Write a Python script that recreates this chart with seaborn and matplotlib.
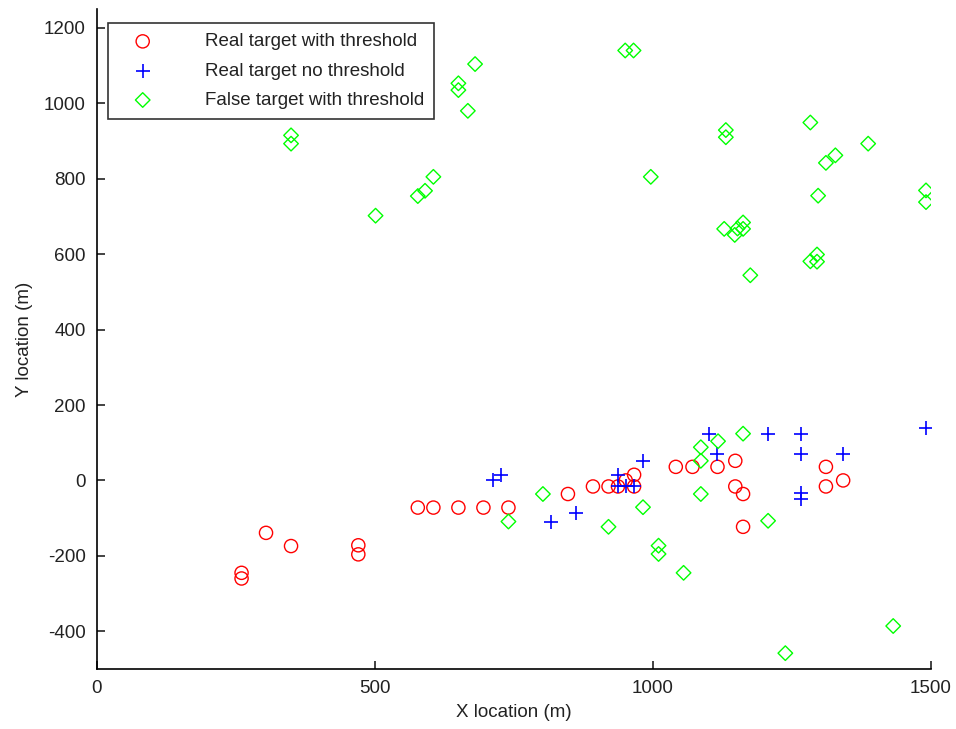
import matplotlib
matplotlib.use("Agg")
import matplotlib.pyplot as plt
import seaborn as sns
import pandas as pd

# Real target with threshold (red circles)
real_thr_x = [260, 260, 304, 349, 470, 470, 577, 605, 650, 695, 740, 847, 892, 920, 937, 951,
              966, 966, 1041, 1071, 1116, 1148, 1148, 1162, 1162, 1311, 1311, 1342]
real_thr_y = [-245, -260, -139, -174, -172, -196, -72, -72, -72, -72, -72, -36, -16, -16, -16, 0,
              15, -16, 36, 36, 36, 52, -16, -36, -123, 36, -16, 0]

# Real target no threshold (blue plus)
real_nothr_x = [713, 727, 817, 862, 937, 937, 951, 965, 982, 1100, 1116, 1207, 1266, 1266,
                1266, 1266, 1342, 1491]
real_nothr_y = [0, 15, -109, -87, 15, -16, -16, -16, 52, 124, 70, 124, 124, 70,
                -34, -50, 70, 138]

# False target with threshold (green diamonds)
false_thr_x = [740, 802, 920, 982, 1010, 1010, 1055, 1086, 1086, 1086, 1117, 1162, 1207, 1238, 1432,
               349, 349, 501, 577, 590, 605, 650, 650, 667, 680,
               950, 965, 996, 1131, 1131, 1283, 1387, 1311, 1328, 1297, 1491, 1491,
               1128, 1147, 1152, 1162, 1162, 1175, 1283, 1295, 1295]
false_thr_y = [-109, -36, -123, -71, -173, -195, -245, 88, 52, -36, 104, 124, -107, -458, -386,
               915, 893, 702, 754, 768, 805, 1053, 1035, 980, 1104,
               1140, 1140, 805, 929, 910, 949, 893, 842, 862, 755, 769, 738,
               667, 651, 668, 684, 667, 544, 581, 599, 580]

labels = ["Real target with threshold", "Real target no threshold", "False target with threshold"]

df_rt = pd.DataFrame({"x": real_thr_x, "y": real_thr_y})
df_rn = pd.DataFrame({"x": real_nothr_x, "y": real_nothr_y})
df_ft = pd.DataFrame({"x": false_thr_x, "y": false_thr_y})

sns.set_style("white")
plt.rcParams["font.family"] = ["Liberation Sans", "DejaVu Sans"]
plt.rcParams["axes.unicode_minus"] = False
plt.rcParams["text.color"] = "#222222"
plt.rcParams["axes.labelcolor"] = "#222222"

fig = plt.figure(figsize=(9.56, 7.29), dpi=100)
ax = fig.add_axes([97/956, 60/729, 834/956, 660/729])

sns.scatterplot(data=df_rt, x="x", y="y", ax=ax, marker="o", s=90,
                facecolors="none", edgecolor=(1, 0, 0), linewidth=1.0, label=labels[0])
sns.scatterplot(data=df_rn, x="x", y="y", ax=ax, marker="+", s=110,
                color=(0, 0, 1), linewidth=1.2, label=labels[1])
sns.scatterplot(data=df_ft, x="x", y="y", ax=ax, marker="D", s=55,
                facecolors="none", edgecolor=(0, 1, 0), linewidth=1.0, label=labels[2])

ax.set_xlim(0, 1500)
ax.set_ylim(-500, 1250)
ax.set_xticks([0, 500, 1000, 1500])
ax.set_yticks([-400, -200, 0, 200, 400, 600, 800, 1000, 1200])
ax.tick_params(direction="in", length=6, width=1.2, labelsize=13.5, colors="#222222", pad=8,
               left=True, bottom=True)
for s in ["top", "right"]:
    ax.spines[s].set_visible(False)
for s in ["left", "bottom"]:
    ax.spines[s].set_color("black")
    ax.spines[s].set_linewidth(1.2)

ax.set_xlabel("X location (m)", fontsize=13.5, labelpad=5)
ax.set_ylabel("Y location (m)", fontsize=13.5, labelpad=8)

leg = ax.legend(loc="upper left", bbox_to_anchor=(0.0132, 0.979), fontsize=13.5,
                frameon=True, fancybox=False, edgecolor="black", handletextpad=2.0,
                handlelength=2.6, borderpad=0.55, labelspacing=0.65, borderaxespad=0)
leg.get_frame().set_linewidth(1.2)

fig.savefig("out.png", dpi=100)
